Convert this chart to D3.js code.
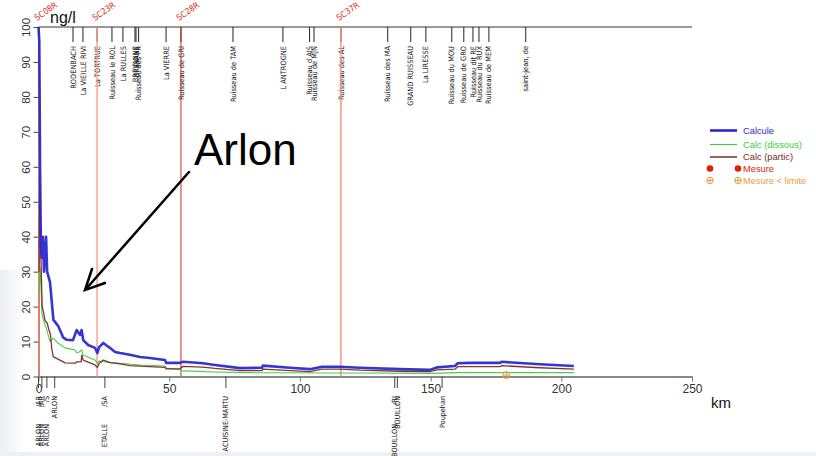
<!DOCTYPE html>
<html>
<head>
<meta charset="utf-8">
<script src="https://cdn.jsdelivr.net/npm/d3@7"></script>
<style>
  html, body { margin: 0; padding: 0; background: #fff; }
  svg { display: block; font-family: "Liberation Sans", Arial, sans-serif; }
  .narrow { font-family: "Liberation Sans Narrow", "DejaVu Sans Condensed", "Liberation Sans", sans-serif; }
</style>
</head>
<body>
<svg id="chart" width="816" height="456"></svg>
<script>
// Concentration profile along the river (km from source), ng/l
const calculeKm = [0, 0.3, 0.6, 0.9, 1.2, 1.7, 2.1, 2.9, 3.3, 4.4, 5.7, 7.5, 9.4, 10.8, 13.2, 14.6, 15.9, 16.5, 17.1, 19.0, 21.6, 22.5, 23.2, 24.8, 25.8, 27.3, 29.3, 31.2, 35.0, 38.8, 42.6, 48.4, 48.8, 54.1, 55.3, 62.9, 67.5, 77.1, 85.5, 85.8, 96.2, 103.8, 108.4, 115.3, 122.9, 138.2, 149.7, 152.4, 159.3, 160.4, 165.0, 176.5, 177.2, 191.8, 204.8];
const calculeVal = [100, 96, 60, 38, 34, 40, 30, 40, 30, 27, 16.2, 14.5, 11.2, 10.5, 10.4, 13.3, 11.9, 13.3, 10.4, 9.0, 8.2, 6.7, 8.4, 9.6, 9.0, 8.2, 7.0, 6.7, 6.2, 5.6, 5.3, 4.7, 3.9, 3.9, 4.2, 3.8, 3.3, 2.4, 2.5, 3.1, 2.5, 2.1, 2.8, 2.8, 2.5, 2.1, 1.9, 2.6, 3.0, 3.8, 3.9, 3.9, 4.2, 3.5, 3.0];

const dissousKm = [0.3, 0.6, 0.9, 1.3, 2.0, 3.3, 4.4, 5.7, 7.5, 10.2, 14.0, 14.6, 15.6, 16.5, 17.1, 19.0, 21.6, 22.5, 23.2, 24.8, 31.2, 38.8, 48.4, 48.8, 54.1, 55.3, 67.5, 80.0, 120.0, 150.0, 160.4, 204.8];
const dissousVal = [24, 31, 27, 18, 16, 13, 10, 11, 9.5, 8.2, 7.6, 6.8, 7.0, 7.6, 6.1, 5.5, 4.7, 3.8, 4.4, 4.2, 3.8, 3.3, 3.0, 2.4, 2.0, 1.6, 1.3, 1.1, 1.0, 0.9, 1.1, 1.1];

const particKm = [0.2, 0.4, 0.7, 1.0, 1.4, 1.9, 2.5, 3.3, 4.0, 4.6, 5.0, 5.6, 8.2, 10.2, 14.0, 14.6, 16.3, 16.6, 17.1, 21.6, 22.5, 23.2, 24.8, 27.3, 31.2, 35.0, 42.6, 48.4, 48.8, 54.1, 55.3, 62.9, 67.5, 77.1, 85.5, 85.8, 96.2, 103.8, 108.4, 115.3, 122.9, 138.2, 149.7, 152.4, 159.3, 160.4, 165.0, 176.5, 177.2, 191.8, 204.8];
const particVal = [30, 57, 45, 32, 20, 18.4, 16, 15.3, 13.3, 12, 8.4, 5.7, 4.7, 3.9, 3.8, 4.2, 4.2, 6.1, 4.7, 3.3, 2.6, 3.7, 4.7, 4.0, 3.6, 3.1, 2.8, 2.6, 2.2, 2.2, 2.9, 2.7, 2.3, 1.7, 1.7, 2.1, 1.7, 1.4, 2.1, 2.1, 1.8, 1.5, 1.4, 1.9, 2.1, 2.8, 2.8, 2.8, 3.1, 2.5, 2.1];

// Measurement below detection limit
const limiteKm = [179];
const limiteVal = [0.4];

// Monitoring stations
const stationNames = ["SC08R", "SC23R", "SC28R", "SC37R"];
const stationKm = [0.2, 22.4, 54.5, 115.7];

// Tributaries (confluences, km)
const tribNames = ["RODENBACH", "La VIEILLE RIVI", "La TORTRUE", "Ruisseau le ROL", "La RULLES", "BREVANNE", "BRÉVANE", "Ruisseau des PR", "La VIERRE", "Ruisseau de GRI", "Ruisseau de TAM", "L  ANTROGNE", "Ruisseau d AIS", "Ruisseau de MJN", "Ruisseau des AL", "Ruisseau des MA", "GRAND RUISSEAU", "La LIRESSE", "Ruisseau du MOU", "Ruisseau de GRO", "Ruisseau dit RE", "Ruisseau du RUX", "Ruisseau de MEM", "saint-jean, de"];
const tribKm = [13.2, 17.0, 22.4, 28.1, 32.3, 36.9, 37.3, 38.3, 48.8, 54.5, 74.4, 93.5, 103.7, 105.4, 115.7, 133.6, 142.4, 148.2, 158.1, 162.7, 166.2, 168.5, 172.3, 186.4];

// Towns along the river
const townKm = [0.0, 1.3, 3.2, 6.2, 25.4, 71.7, 136.3, 137.3, 154.4];
const townUpper = ["/AR", "/AR", "/S", "ARLON", "/SA", "ACUISINE-MARTU", "/RI", "BOUILLON", "Poupehan"];
const townLower = ["ARLON", "ARLON", "ARLON", "", "ETALLE", "", "BOUILLON", "", ""];

const xTicks = [0, 50, 100, 150, 200, 250];
const yTicks = [0, 10, 20, 30, 40, 50, 60, 70, 80, 90, 100];

const legendLabels = ["Calcule", "Calc (dissous)", "Calc (partic)", "Mesure", "Mesure < limite"];

// ---- drawing ----
const svg = d3.select("#chart");
const colors = { calcule: "#2a2acc", dissous: "#3ccc3c", partic: "#7a2a2a", mesure: "#dd2200", limite: "#e8a040" };
const stationColor = ["#ee6a50", "#f4a08c", "#c0301c", "#f09078"];

const x = d3.scaleLinear().domain([0, 250]).range([38.5, 692]);
const y = d3.scaleLinear().domain([0, 100]).range([376.5, 27]);

// soft grey edges of the slide
const defs = svg.append("defs");
const grad = defs.append("linearGradient").attr("id", "edge").attr("x1", 0).attr("x2", 1);
grad.append("stop").attr("offset", 0).attr("stop-color", "#eceef2");
grad.append("stop").attr("offset", 1).attr("stop-color", "#ffffff");
svg.append("rect").attr("x", 0).attr("y", 270).attr("width", 26).attr("height", 186).attr("fill", "url(#edge)");
svg.append("rect").attr("x", 0).attr("y", 452).attr("width", 816).attr("height", 4).attr("fill", "#eef0f4");

// top river line
svg.append("line")
  .attr("x1", x(0)).attr("x2", x(250)).attr("y1", y(100)).attr("y2", y(100))
  .attr("stroke", "#999").attr("stroke-width", 2);

// y axis
const yAxis = svg.append("g").attr("transform", `translate(${x(0)},0)`)
  .call(d3.axisLeft(y).tickValues(yTicks).tickSize(5).tickSizeOuter(0));
yAxis.select(".domain").attr("stroke", "#888").attr("stroke-width", 1.2);
yAxis.selectAll(".tick line").attr("stroke", "#444");
yAxis.selectAll(".tick text")
  .attr("transform", "rotate(-90)")
  .attr("x", 0).attr("y", -9).attr("dy", 0)
  .attr("text-anchor", "middle")
  .attr("font-size", 11.5).attr("fill", "#333")
  .attr("font-family", "Liberation Sans, Arial, sans-serif");

// x axis
const xAxis = svg.append("g").attr("transform", `translate(0,${y(0)})`)
  .call(d3.axisBottom(x).tickValues(xTicks).tickSize(5).tickSizeOuter(0).tickPadding(3));
xAxis.select(".domain").attr("stroke", "#888").attr("stroke-width", 2);
xAxis.selectAll(".tick line").attr("stroke", "#777");
xAxis.selectAll(".tick text").attr("font-size", 12).attr("fill", "#333")
  .attr("font-family", "Liberation Sans, Arial, sans-serif");

svg.append("text").attr("x", 711).attr("y", 408).attr("font-size", 15).attr("fill", "#111").text("km");
svg.append("text").attr("x", 50).attr("y", 23).attr("font-size", 16).attr("fill", "#111").text("ng/l");

// tributary ticks and names
const trib = svg.append("g").attr("class", "narrow");
tribKm.forEach((k, i) => {
  trib.append("line").attr("x1", x(k)).attr("x2", x(k)).attr("y1", y(100)).attr("y2", 42)
    .attr("stroke", "#222").attr("stroke-width", 1);
  trib.append("text")
    .attr("transform", `translate(${x(k)},46) rotate(-90)`)
    .attr("dy", "0.35em").attr("text-anchor", "end")
    .attr("font-size", 7.4).attr("fill", "#111")
    .text(tribNames[i]);
});

// town ticks and names
const towns = svg.append("g").attr("class", "narrow");
townKm.forEach((k, i) => {
  towns.append("line").attr("x1", x(k)).attr("x2", x(k)).attr("y1", y(0)).attr("y2", 388)
    .attr("stroke", "#444").attr("stroke-width", 1);
  towns.append("text")
    .attr("transform", `translate(${x(k)},396) rotate(-90)`)
    .attr("dy", "0.35em").attr("text-anchor", "end")
    .attr("font-size", 7.2).attr("fill", "#111")
    .text(townUpper[i]);
  if (townLower[i]) {
    towns.append("text")
      .attr("transform", `translate(${x(k)},424) rotate(-90)`)
      .attr("dy", "0.35em").attr("text-anchor", "end")
      .attr("font-size", 7.2).attr("fill", "#111")
      .text(townLower[i]);
  }
});

// station lines
stationKm.forEach((k, i) => {
  svg.append("line").attr("x1", x(k)).attr("x2", x(k)).attr("y1", y(100)).attr("y2", y(0))
    .attr("stroke", stationColor[i]).attr("stroke-width", i === 2 ? 1 : 1.4);
  svg.append("text")
    .attr("transform", `translate(${x(k) - 2},21) rotate(-35)`)
    .attr("font-size", 8.6).attr("fill", "#e03020")
    .attr("class", "narrow")
    .text(stationNames[i]);
});

// profile lines
const line = d3.line().x(d => x(d[0])).y(d => y(d[1]));
const series = [
  { km: dissousKm, val: dissousVal, color: colors.dissous, w: 1.1 },
  { km: particKm, val: particVal, color: colors.partic, w: 1.3 },
  { km: calculeKm, val: calculeVal, color: colors.calcule, w: 2.6 }
];
series.forEach(s => {
  svg.append("path")
    .datum(s.km.map((k, i) => [k, s.val[i]]))
    .attr("d", line)
    .attr("fill", "none").attr("stroke", s.color).attr("stroke-width", s.w)
    .attr("stroke-linejoin", "round").attr("opacity", 0.95);
});

// below-limit measurement symbol
function limitSymbol(g, cx, cy, r) {
  g.append("circle").attr("cx", cx).attr("cy", cy).attr("r", r)
    .attr("fill", "none").attr("stroke", colors.limite).attr("stroke-width", 1);
  g.append("line").attr("x1", cx - r).attr("x2", cx + r).attr("y1", cy).attr("y2", cy)
    .attr("stroke", colors.limite).attr("stroke-width", 1);
  g.append("line").attr("x1", cx).attr("x2", cx).attr("y1", cy - r).attr("y2", cy + r)
    .attr("stroke", colors.limite).attr("stroke-width", 1);
}
limiteKm.forEach((k, i) => limitSymbol(svg, x(k), y(limiteVal[i]), 3.5));

// annotation
svg.append("text").attr("x", 194).attr("y", 165).attr("font-size", 44).attr("fill", "#000").text("Arlon");
const arrow = svg.append("g").attr("stroke", "#000").attr("stroke-width", 2.5)
  .attr("fill", "none").attr("stroke-linecap", "round");
arrow.append("line").attr("x1", 189).attr("y1", 172).attr("x2", 86).attr("y2", 289);
arrow.append("polyline").attr("points", "92,269 85,290 105,283");

// legend
const lg = svg.append("g").attr("font-size", 9.3);
const ly = [130.5, 144.5, 157, 168.5, 180.5];
const lcol = [colors.calcule, colors.dissous, colors.partic, colors.mesure, colors.limite];
[2.6, 1.1, 1.5].forEach((w, i) => {
  lg.append("line").attr("x1", 710).attr("x2", 737).attr("y1", ly[i]).attr("y2", ly[i])
    .attr("stroke", lcol[i]).attr("stroke-width", w);
});
lg.append("circle").attr("cx", 710).attr("cy", ly[3]).attr("r", 3.3).attr("fill", colors.mesure);
lg.append("circle").attr("cx", 738).attr("cy", ly[3]).attr("r", 3.3).attr("fill", colors.mesure);
limitSymbol(lg, 710, ly[4], 3.3);
limitSymbol(lg, 738, ly[4], 3.3);
legendLabels.forEach((t, i) => {
  lg.append("text").attr("x", 743).attr("y", ly[i]).attr("dy", "0.35em")
    .attr("fill", lcol[i]).text(t);
});
</script>
</body>
</html>
